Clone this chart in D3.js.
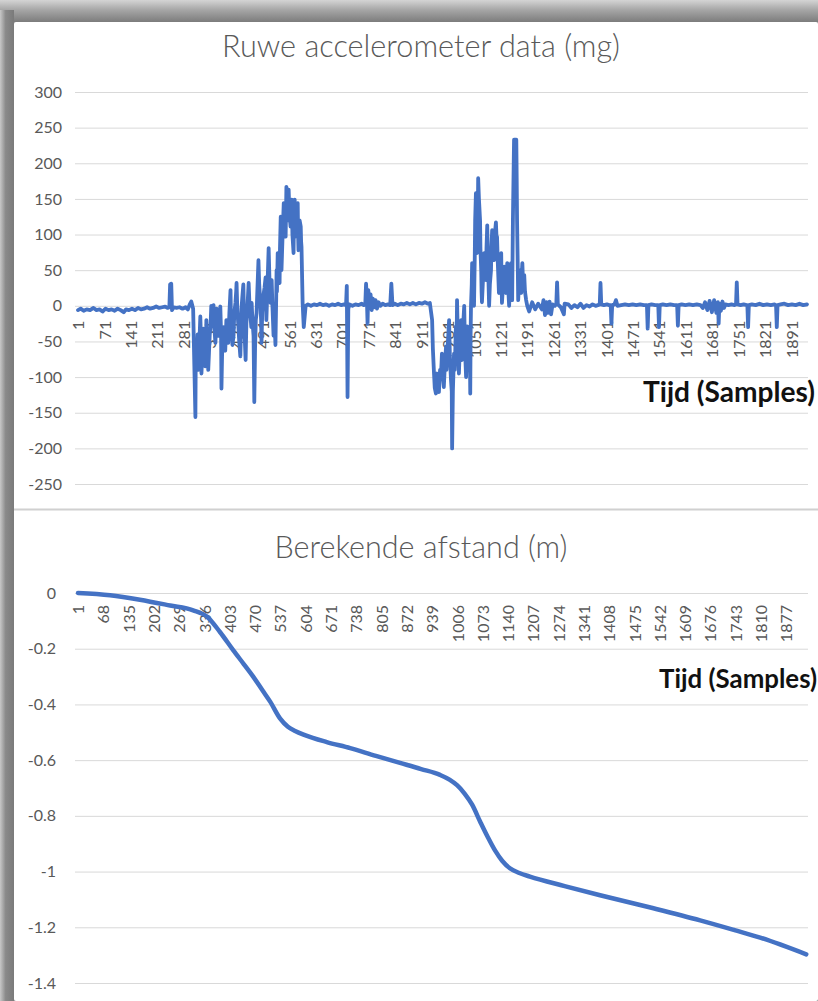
<!DOCTYPE html>
<html><head><meta charset="utf-8">
<script src="https://cdn.jsdelivr.net/npm/d3@7"></script>
<style>body{margin:0;background:#fff;} svg{display:block;}</style>
</head><body><svg id="c" width="818" height="1001"></svg>
<script>
// ---------- DATA ----------
const totalSamples = 1932;
const accelPoints = [
[1,-6],[8,-4],[16,-7],[24,-5],[33,-6],[42,-3],[50,-6],[58,-5],[66,-8],[74,-4],[82,-6],[90,-5],[98,-7],[106,-4],[114,-6],[122,-9],[128,-5],[136,-6],[144,-4],[152,-6],[160,-3],[168,-5],[176,-4],[184,-2],[192,-4],[200,-3],[208,-1],[216,-3],[224,-2],[232,-1],[238,-3],[243,-2],[245,30],[248,31],[250,-6],[254,-2],[262,-3],[270,-2],[278,-4],[286,-2],[292,-5],[297,2],[301,6],[306,-4],
[312,-156],[313,-60],[314,-48],[316,-75],[318,-40],[320,-90],[322,-60],[325,-15],[327,-50],[328,-95],[330,-70],[333,-32],[335,-60],[338,-85],[340,-55],[341,-20],[343,-45],[346,-90],[348,-65],[350,-40],[352,-30],[354,0],[356,-20],[358,-8],[360,1],[362,-30],[365,-52],[367,-25],[368,-4],[370,-20],[373,-42],[375,-15],[378,-1],[380,-40],[381,-116],[383,-60],[386,-30],[388,-50],[391,-63],[393,-35],[394,-20],[397,-40],[399,-52],[402,-10],[405,22],[406,-10],[407,-25],[410,-55],[413,-42],[415,-10],[418,4],[420,20],[421,32],[423,-5],[426,-30],[428,-50],[431,-71],[433,-30],[434,-4],[436,10],[439,30],[441,-20],[443,-50],[445,-76],[447,-25],[450,0],[453,32],[455,5],[458,-15],[460,-30],[461,4],[463,-20],[466,-42],[468,-135],[470,-60],[472,-20],[474,-10],[476,20],[479,64],[481,30],[484,4],[486,-20],[487,-52],[489,-10],[492,14],[495,25],[498,40],[499,10],[500,-20],[503,30],[506,81],[508,40],[511,4],[512,20],[514,36],[516,0],[519,-42],[521,-10],[524,-55],[526,10],[527,50],[528,20],[530,74],[532,50],[535,32],[536,80],[538,125],[539,80],[540,50],[543,100],[546,144],[548,110],[551,97],[552,130],[553,167],[555,140],[557,120],[559,163],[561,130],[564,111],[566,140],[567,149],[569,100],[572,74],[573,120],[575,149],[576,110],[577,97],[580,130],[583,144],[584,100],[585,78],[588,120],[591,111],[592,90],[593,83],[596,4],[599,-30],[604,0],
[610,2],[618,0],[626,2],[634,1],[642,3],[650,1],[658,2],[666,0],[674,2],[682,1],[690,3],[698,1],[706,2],[711,1],[713,28],[715,-128],[717,-4],[720,2],[728,0],[736,2],[744,1],[752,3],[758,1],[762,3],[764,31],[766,12],[768,-25],[770,22],[773,4],[776,16],[779,-6],[782,10],[785,-2],[789,8],[793,-4],[797,5],[802,0],[808,3],[815,1],[822,2],[828,1],[831,31],[834,1],[840,3],[848,1],[856,3],[864,2],[872,4],[880,2],[888,4],[896,2],[904,4],[912,3],[920,5],[928,3],[933,4],
[936,-8],[939,-20],[941,-60],[944,-95],[946,-115],[949,-123],[951,-105],[952,-95],[955,-118],[957,-121],[960,-90],[962,-100],[964,-80],[965,-67],[968,-100],[970,-114],[973,-80],[976,-57],[977,-90],[978,-76],[981,-50],[984,-20],[986,-70],[989,-104],[991,-120],[992,-200],[994,-120],[997,-67],[999,-90],[1002,-29],[1004,-50],[1005,8],[1007,-40],[1010,-95],[1013,-50],[1016,-20],[1017,-55],[1018,-76],[1021,-30],[1024,0],[1026,-60],[1029,-100],[1031,-60],[1032,-29],[1035,-70],[1037,-90],[1039,-60],[1040,-123],[1041,-40],[1042,0],[1044,30],[1045,60],[1047,20],[1050,0],[1052,70],[1053,120],[1055,158],[1056,110],[1058,74],[1060,130],[1061,179],[1063,150],[1066,120],[1067,80],[1069,50],[1070,20],[1071,5],[1074,40],[1077,74],[1079,50],[1082,36],[1083,80],[1085,113],[1087,60],[1090,0],[1092,30],[1095,50],[1096,80],[1098,106],[1100,80],[1103,64],[1105,100],[1108,117],[1110,90],[1111,97],[1113,60],[1116,18],[1119,50],[1122,74],[1123,30],[1124,4],[1127,30],[1130,55],[1132,30],[1135,18],[1136,40],[1138,60],[1140,30],[1143,0],[1146,40],[1148,60],[1150,30],[1151,8],[1153,120],[1156,233],[1162,233],[1163,180],[1164,120],[1166,50],[1167,8],[1169,30],[1170,50],[1172,30],[1175,18],[1176,40],[1178,60],[1180,30],[1183,43],[1185,20],[1188,8],[1191,0],[1196,-8],[1204,5],
[1212,-5],[1220,3],[1230,-5],[1234,8],[1238,-13],[1242,5],[1246,-10],[1250,6],[1254,-12],[1258,2],[1264,0],[1268,3],[1270,33],[1272,2],[1280,-2],[1288,-12],[1290,3],[1300,2],[1308,-3],[1316,1],[1324,-2],[1332,3],[1340,-3],[1348,1],[1356,-1],[1364,2],[1372,0],[1378,1],[1383,2],[1385,32],[1387,2],[1394,1],[1402,2],[1408,1],[1412,1],[1414,-25],[1416,1],[1422,2],[1426,8],[1430,0],[1440,1],[1450,2],[1460,1],[1470,2],[1480,1],[1490,2],[1500,1],[1508,1],[1510,-32],[1512,1],[1520,2],[1530,1],[1538,1],[1540,-30],[1542,1],[1550,2],[1560,1],[1570,2],[1580,1],[1588,1],[1590,-28],[1592,1],[1600,2],[1610,1],[1620,2],[1630,1],[1640,2],[1650,1],[1656,-3],[1662,5],[1668,-6],[1674,7],[1680,-9],[1686,8],[1692,-10],[1696,5],[1698,-25],[1700,3],[1704,-7],[1708,6],[1712,-3],[1716,2],[1724,1],[1732,2],[1740,1],[1744,2],[1746,33],[1748,2],[1756,1],[1764,2],[1772,1],[1774,1],[1776,-30],[1778,1],[1786,2],[1796,1],[1806,3],[1816,1],[1826,2],[1836,1],[1846,2],[1850,1],[1852,-30],[1854,1],[1862,2],[1872,3],[1882,1],[1892,2],[1902,1],[1912,3],[1922,1],[1932,2]
];
const distancePoints = [
[1,0],[86,-0.008],[165,-0.024],[245,-0.045],[306,-0.062],[343,-0.085],[377,-0.14],[412,-0.205],[440,-0.255],[465,-0.30],[490,-0.35],[510,-0.39],[536,-0.45],[557,-0.48],[576,-0.495],[602,-0.51],[660,-0.535],[722,-0.557],[790,-0.585],[854,-0.61],[910,-0.632],[960,-0.653],[985,-0.67],[1005,-0.69],[1025,-0.72],[1045,-0.76],[1066,-0.82],[1086,-0.875],[1106,-0.925],[1125,-0.962],[1145,-0.988],[1170,-1.005],[1198,-1.018],[1290,-1.052],[1384,-1.085],[1520,-1.13],[1649,-1.175],[1740,-1.21],[1808,-1.237],[1930,-1.297]
];
const topXTicks = [1,71,141,211,281,351,421,491,561,631,701,771,841,911,981,1051,1121,1191,1261,1331,1401,1471,1541,1611,1681,1751,1821,1891];
const botXTicks = [1,68,135,202,269,336,403,470,537,604,671,738,805,872,939,1006,1073,1140,1207,1274,1341,1408,1475,1542,1609,1676,1743,1810,1877];
const topYTicks = [300,250,200,150,100,50,0,-50,-100,-150,-200,-250];
const botYTicks = [0,-0.2,-0.4,-0.6,-0.8,-1,-1.2,-1.4];
const topTitle = "Ruwe accelerometer data (mg)";
const botTitle = "Berekende afstand (m)";
const xTitle = "Tijd (Samples)";

// ---------- DRAW ----------
const W=818,H=1001;
const FONT = "Lato, 'Open Sans', 'DejaVu Sans', sans-serif";
const svg = d3.select('#c');
const defs = svg.append('defs');
const gTop = defs.append('linearGradient').attr('id','gt').attr('x1',0).attr('y1',0).attr('x2',0).attr('y2',1);
gTop.append('stop').attr('offset','0%').attr('stop-color','#d4d4d4');
gTop.append('stop').attr('offset','45%').attr('stop-color','#a6a6a6');
gTop.append('stop').attr('offset','100%').attr('stop-color','#7c7c7c');
const gLeft = defs.append('linearGradient').attr('id','gl').attr('x1',0).attr('y1',0).attr('x2',1).attr('y2',0);
gLeft.append('stop').attr('offset','0%').attr('stop-color','#c8c8c8');
gLeft.append('stop').attr('offset','40%').attr('stop-color','#8a8a8a');
gLeft.append('stop').attr('offset','100%').attr('stop-color','#7a7a7a');

svg.append('rect').attr('width',W).attr('height',H).attr('fill','#8c8c8c');
svg.append('rect').attr('x',0).attr('y',0).attr('width',W).attr('height',22).attr('fill','url(#gt)');
svg.append('rect').attr('x',0).attr('y',10).attr('width',14).attr('height',H).attr('fill','url(#gl)');
svg.append('rect').attr('x',14).attr('y',22).attr('width',W-14).attr('height',H-22).attr('fill','#ffffff').attr('rx',2);

// separator between charts
svg.append('line').attr('x1',14).attr('x2',W).attr('y1',509.5).attr('y2',509.5).attr('stroke','#d0d0d0').attr('stroke-width',2);

const x = d3.scaleLinear().domain([1,totalSamples]).range([78,807]);
const gridX0 = 75, gridX1 = 808;

function fitText(sel, target){
  const w = sel.node().getComputedTextLength();
  const fs = parseFloat(sel.attr('font-size'));
  sel.attr('font-size', fs*target/w);
}

function drawChart(cfg){
  const g = svg.append('g');
  const yAx = d3.axisLeft(cfg.y).tickValues(cfg.yTicks).tickFormat(cfg.yFmt)
      .tickSize(-(gridX1-gridX0)).tickPadding(cfg.yPad);
  const ya = g.append('g').attr('transform',`translate(${gridX0},0)`).call(yAx);
  ya.select('.domain').remove();
  ya.selectAll('.tick line').attr('stroke','#d9d9d9').attr('stroke-width',1);
  ya.selectAll('.tick text').attr('fill','#595959').style('font-family',FONT).style('font-size','16px');
  const xAx = d3.axisBottom(x).tickValues(cfg.xTicks).tickFormat(d=>String(d)).tickSize(0);
  const xa = g.append('g').attr('transform',`translate(0,${cfg.y(0)})`).call(xAx);
  xa.select('.domain').remove();
  xa.selectAll('.tick text')
    .attr('transform','rotate(-90)')
    .attr('x',-cfg.xLabOff).attr('y',0).attr('dy','0.35em')
    .style('text-anchor','end')
    .attr('fill','#595959').style('font-family',FONT).style('font-size','16px');
  const line = d3.line().x(d=>x(d[0])).y(d=>cfg.y(d[1]));
  if(cfg.curve) line.curve(cfg.curve);
  g.append('path').datum(cfg.data).attr('d',line).attr('fill','none')
    .attr('stroke','#4472C4').attr('stroke-width',cfg.lw).attr('stroke-linejoin','round').attr('stroke-linecap','round');
  const t = g.append('text').attr('x',421).attr('y',cfg.titleY).attr('text-anchor','middle')
    .attr('font-size',27).style('font-family',FONT).style('font-weight',300).attr('fill','#595959').text(cfg.title);
  fitText(t, cfg.titleW);
  const a = g.append('text').attr('x',cfg.axX).attr('y',cfg.axY).attr('text-anchor',cfg.axAnchor)
    .attr('font-size',20).style('font-family',FONT).style('font-weight',700).attr('fill','#111').text(xTitle);
  fitText(a, cfg.axW);
}

drawChart({
  y: d3.scaleLinear().domain([-250,300]).range([484,92]),
  yTicks: topYTicks, yFmt: d=>String(d), yPad: 13,
  xTicks: topXTicks, xLabOff: 15,
  data: accelPoints, lw: 3.8, curve: null,
  title: topTitle, titleY: 57, titleW: 398,
  axX: 815, axY: 402, axAnchor: 'end', axW: 172
});
drawChart({
  y: d3.scaleLinear().domain([-1.4,0]).range([983,593]),
  yTicks: botYTicks, yFmt: d=>String(d), yPad: 19,
  xTicks: botXTicks, xLabOff: 12,
  data: distancePoints, lw: 4.5, curve: d3.curveMonotoneX,
  title: botTitle, titleY: 558, titleW: 293,
  axX: 817, axY: 688, axAnchor: 'end', axW: 158
});
</script></body></html>
